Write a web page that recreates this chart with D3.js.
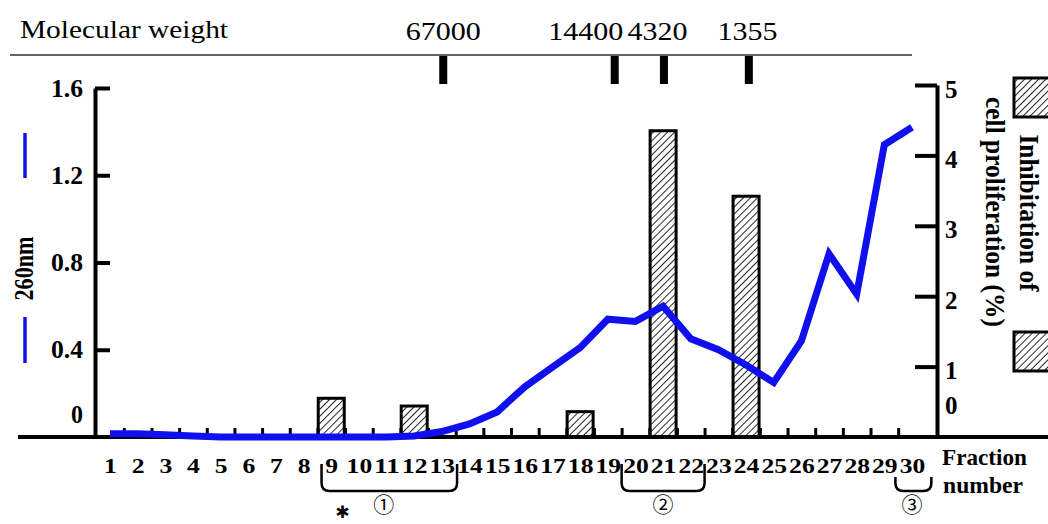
<!DOCTYPE html>
<html>
<head>
<meta charset="utf-8">
<script src="https://cdn.jsdelivr.net/npm/d3@7"></script>
<style>
  body { margin: 0; background: #fff; }
  svg { display: block; }
  text { font-family: 'Liberation Serif', 'Times New Roman', serif; fill: #000; }
</style>
</head>
<body>
<div id="chart"></div>
<script>
// fraction numbers along the x axis
var fractions = d3.range(1, 31)

// absorbance at 260nm, one value per fraction (left axis)
var absorbance = [0.015, 0.015, 0.01, 0.005, 0, 0, 0, 0, 0, 0,
  0, 0.005, 0.025, 0.06, 0.115, 0.23, 0.32, 0.41, 0.54, 0.53,
  0.6, 0.45, 0.4, 0.33, 0.25, 0.44, 0.84, 0.655, 1.34, 1.42]

// inhibition of cell proliferation (%) (right axis)
var barFractions = [9, 12, 18, 21, 24]
var inhibition = [0.55, 0.44, 0.36, 4.35, 3.42]

// molecular weight standards, where they elute and where the labels sit
var mwLabels = ['67000', '14400', '4320', '1355']
var mwFractions = [13.05, 19.25, 21.03, 24.1]
var mwLabelAt = [13.05, 18.2, 20.8, 24.05]

// tick values
var leftTicks = [0, 0.4, 0.8, 1.2, 1.6]
var rightTicks = [0, 1, 2, 3, 4, 5]

// pooled fractions shown with brackets under the axis
var groupLabels = ['\u2460', '\u2461', '\u2462']
var groupFrom = [8.65, 19.5, 29.4]
var groupTo = [13.55, 22.5, 30.7]
var groupMid = [10.9, 21, 30]

var svgWidth = 1048
var svgHeight = 524
var baseY = 437
var serif = "'Liberation Serif', 'Times New Roman', serif"

var svg = d3.select('#chart')
  .append('svg')
  .attr('width', svgWidth)
  .attr('height', svgHeight)

svg.append('rect').attr('width', svgWidth).attr('height', svgHeight).attr('fill', '#fff')

// hatch pattern for the bars
var defs = svg.append('defs')
defs.append('pattern')
  .attr('id', 'hatch')
  .attr('patternUnits', 'userSpaceOnUse')
  .attr('width', 5)
  .attr('height', 5)
  .attr('patternTransform', 'rotate(45)')
  .append('line')
  .attr('x1', 0).attr('y1', 0).attr('x2', 0).attr('y2', 5)
  .attr('stroke', '#000')
  .attr('stroke-width', 1.7)

// scales
var x = d3.scaleLinear().domain([1, 30]).range([110, 912])
var yLeft = d3.scaleLinear().domain([0, 1.6]).range([baseY, 88])
var yRight = d3.scaleLinear().domain([0, 5]).range([baseY, 85])

// molecular weight strip on top
svg.append('text')
  .attr('x', 20)
  .attr('y', 38)
  .attr('textLength', 208)
  .attr('lengthAdjust', 'spacingAndGlyphs')
  .style('font-size', '25px')
  .text('Molecular weight')

svg.append('line')
  .attr('x1', 10).attr('x2', x(30))
  .attr('y1', 55).attr('y2', 55)
  .attr('stroke', '#333')
  .attr('stroke-width', 1.5)

svg.selectAll('.mw-mark')
  .data(mwFractions)
  .enter()
  .append('rect')
  .attr('class', 'mw-mark')
  .attr('x', d => x(d) - 4)
  .attr('y', 56)
  .attr('width', 8)
  .attr('height', 28)
  .attr('fill', '#000')

svg.selectAll('.mw-label')
  .data(mwLabels)
  .enter()
  .append('text')
  .attr('class', 'mw-label')
  .attr('x', (d, i) => x(mwLabelAt[i]))
  .attr('y', 40)
  .attr('text-anchor', 'middle')
  .attr('textLength', d => d.length * 15)
  .attr('lengthAdjust', 'spacingAndGlyphs')
  .style('font-size', '26px')
  .text(d => d)

// bars
svg.selectAll('.bar')
  .data(inhibition)
  .enter()
  .append('rect')
  .attr('class', 'bar')
  .attr('x', (d, i) => x(barFractions[i]) - 13)
  .attr('width', 26)
  .attr('y', d => yRight(d))
  .attr('height', d => baseY - yRight(d))
  .attr('fill', 'url(#hatch)')
  .attr('stroke', '#000')
  .attr('stroke-width', 3)

// x axis: boundary ticks, then the labels
var boundaries = d3.range(1.5, 30, 1)
var tickAxis = d3.axisBottom(x)
  .tickValues(boundaries)
  .tickSizeInner(-9)
  .tickSizeOuter(0)
  .tickFormat('')
var xTicks = svg.append('g')
  .attr('transform', `translate(0, ${baseY})`)
  .call(tickAxis)
xTicks.select('.domain').remove()
xTicks.selectAll('line').attr('stroke', '#000').attr('stroke-width', 3)

var labelAxis = d3.axisBottom(x)
  .tickValues(fractions)
  .tickSize(0)
  .tickPadding(20)
  .tickFormat(d3.format('d'))
var xLabels = svg.append('g')
  .attr('transform', `translate(0, ${baseY})`)
  .call(labelAxis)
xLabels.select('.domain').remove()
xLabels.selectAll('text')
  .style('font-family', serif)
  .style('font-size', '22px')
  .style('font-weight', 'bold')
  .attr('textLength', d => String(d).length * 12.8)
  .attr('lengthAdjust', 'spacingAndGlyphs')
  .attr('fill', '#000')

// long baseline
svg.append('line')
  .attr('x1', 18).attr('x2', svgWidth)
  .attr('y1', baseY).attr('y2', baseY)
  .attr('stroke', '#000')
  .attr('stroke-width', 4)

// left axis
var leftAxis = d3.axisLeft(yLeft)
  .tickValues(leftTicks)
  .tickSizeInner(-15)
  .tickSizeOuter(0)
  .tickPadding(12)
  .tickFormat(d => d === 0 ? '0' : d3.format('.1f')(d))
var gLeft = svg.append('g')
  .attr('transform', 'translate(95, 0)')
  .call(leftAxis)
gLeft.select('.domain').attr('stroke', '#000').attr('stroke-width', 4)
gLeft.selectAll('.tick line').attr('stroke', '#000').attr('stroke-width', 4)
gLeft.selectAll('.tick text')
  .style('font-family', serif)
  .style('font-size', '25px')
  .style('font-weight', 'bold')
  .attr('textLength', d => d === 0 ? 12 : 32)
  .attr('lengthAdjust', 'spacingAndGlyphs')
  .attr('fill', '#000')
gLeft.selectAll('.tick').filter(d => d === 0).select('line').remove()
gLeft.selectAll('.tick').filter(d => d === 0).select('text').attr('transform', 'translate(0, -23)')

// right axis
var rightAxis = d3.axisRight(yRight)
  .tickValues(rightTicks)
  .tickSizeInner(-22)
  .tickSizeOuter(0)
  .tickPadding(8)
  .tickFormat(d3.format('d'))
var gRight = svg.append('g')
  .attr('transform', 'translate(937, 0)')
  .call(rightAxis)
gRight.select('.domain').attr('stroke', '#000').attr('stroke-width', 4)
gRight.selectAll('.tick line').attr('stroke', '#000').attr('stroke-width', 4)
gRight.selectAll('.tick text')
  .style('font-family', serif)
  .style('font-size', '25px')
  .style('font-weight', 'bold')
  .attr('fill', '#000')
  .attr('transform', 'translate(0, 4)')
gRight.selectAll('.tick').filter(d => d === 0).select('line').remove()
gRight.selectAll('.tick').filter(d => d === 0).select('text').attr('transform', 'translate(0, -32)')

// absorbance line
var line = d3.line()
  .x((d, i) => x(fractions[i]))
  .y(d => yLeft(d))

svg.append('path')
  .datum(absorbance)
  .attr('d', line)
  .attr('fill', 'none')
  .attr('stroke', '#1010ee')
  .attr('stroke-width', 7)
  .attr('stroke-linejoin', 'miter')

// left axis title with its blue line marks
svg.append('text')
  .attr('transform', `translate(33, ${(yLeft(0) + yLeft(1.6)) / 2 + 6}) rotate(-90)`)
  .attr('text-anchor', 'middle')
  .attr('textLength', 64)
  .attr('lengthAdjust', 'spacingAndGlyphs')
  .style('font-size', '28px')
  .style('font-weight', 'bold')
  .text('260nm')

svg.selectAll('.legend-line')
  .data([[133, 178], [317, 363]])
  .enter()
  .append('line')
  .attr('class', 'legend-line')
  .attr('x1', 25).attr('x2', 25)
  .attr('y1', d => d[0]).attr('y2', d => d[1])
  .attr('stroke', '#1010ee')
  .attr('stroke-width', 3.5)

// right axis title with hatched boxes
svg.append('text')
  .attr('transform', 'translate(1020, 213) rotate(90)')
  .attr('text-anchor', 'middle')
  .attr('textLength', 157)
  .attr('lengthAdjust', 'spacingAndGlyphs')
  .style('font-size', '27px')
  .style('font-weight', 'bold')
  .text('Inhibitation of')

svg.append('text')
  .attr('transform', 'translate(986, 212) rotate(90)')
  .attr('text-anchor', 'middle')
  .attr('textLength', 230)
  .attr('lengthAdjust', 'spacingAndGlyphs')
  .style('font-size', '27px')
  .style('font-weight', 'bold')
  .text('cell proliferation (%)')

svg.selectAll('.legend-box')
  .data([78, 332])
  .enter()
  .append('rect')
  .attr('class', 'legend-box')
  .attr('x', 1014)
  .attr('y', d => d)
  .attr('width', 40)
  .attr('height', 39)
  .attr('fill', 'url(#hatch)')
  .attr('stroke', '#000')
  .attr('stroke-width', 3)

// "Fraction number" caption
svg.append('text')
  .attr('x', 942).attr('y', 465)
  .attr('textLength', 85)
  .attr('lengthAdjust', 'spacingAndGlyphs')
  .style('font-size', '23px')
  .style('font-weight', 'bold')
  .text('Fraction')

svg.append('text')
  .attr('x', 943).attr('y', 493)
  .attr('textLength', 80)
  .attr('lengthAdjust', 'spacingAndGlyphs')
  .style('font-size', '23px')
  .style('font-weight', 'bold')
  .text('number')

// brackets for the pooled fractions
function bracket (x0, x1, top, bottom) {
  var r = 8
  return `M${x0},${top} L${x0},${bottom - r} Q${x0},${bottom} ${x0 + r},${bottom}` +
    ` L${x1 - r},${bottom} Q${x1},${bottom} ${x1},${bottom - r} L${x1},${top}`
}

svg.selectAll('.bracket')
  .data(groupLabels)
  .enter()
  .append('path')
  .attr('class', 'bracket')
  .attr('d', (d, i) => bracket(x(groupFrom[i]), x(groupTo[i]), i === 2 ? 477 : 464, 491))
  .attr('fill', 'none')
  .attr('stroke', '#000')
  .attr('stroke-width', 2.5)

svg.selectAll('.group-label')
  .data(groupLabels)
  .enter()
  .append('text')
  .attr('class', 'group-label')
  .attr('x', (d, i) => x(groupMid[i]))
  .attr('y', 512)
  .attr('text-anchor', 'middle')
  .style('font-family', "'Noto Sans CJK SC', 'DejaVu Sans', sans-serif")
  .style('font-size', '21px')
  .text(d => d)

svg.append('text')
  .attr('x', x(9.4))
  .attr('y', 518)
  .attr('text-anchor', 'middle')
  .style('font-family', "'DejaVu Sans', sans-serif")
  .style('font-size', '17px')
  .text('\u2731')
</script>
</body>
</html>
